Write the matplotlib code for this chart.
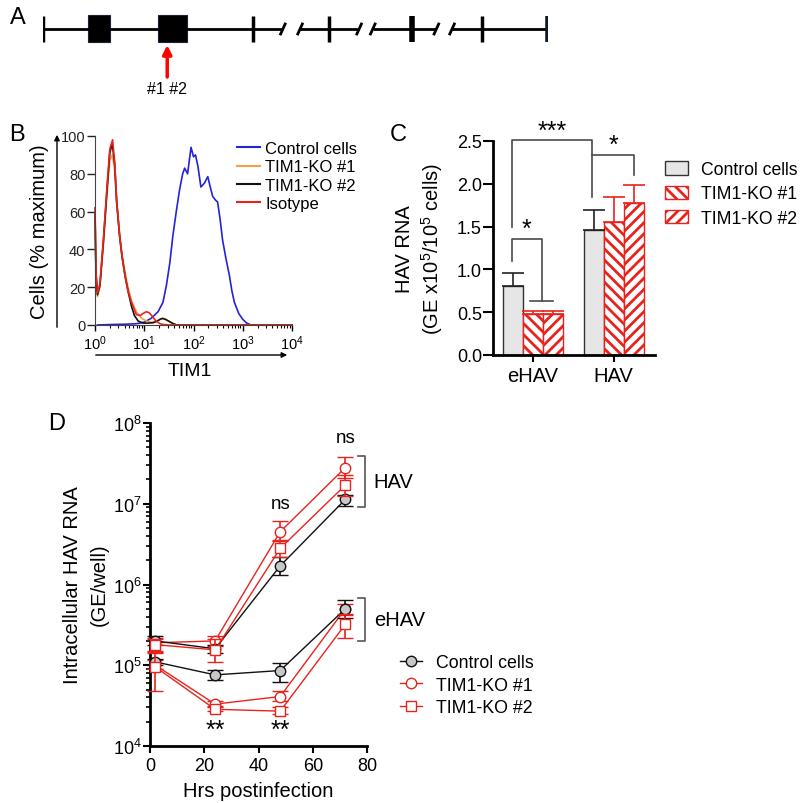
import numpy as np
import matplotlib
matplotlib.use("Agg")
import matplotlib.pyplot as plt
from matplotlib.lines import Line2D
from matplotlib.patches import Rectangle, Patch, FancyArrowPatch
from matplotlib.ticker import LogLocator, NullFormatter

plt.rcParams['font.family'] = ['Liberation Sans', 'DejaVu Sans']
plt.rcParams['mathtext.fontset'] = 'custom'
plt.rcParams['mathtext.rm'] = 'Liberation Sans'
plt.rcParams['mathtext.it'] = 'Liberation Sans:italic'
plt.rcParams['mathtext.bf'] = 'Liberation Sans:bold'
plt.rcParams['hatch.linewidth'] = 2.0

# ---------------- data ----------------
# Panel A: gene schematic (positions in % of drawn gene length)
gene_ticks = [0, 41.6, 56.6, 73.1, 86.9, 100]
exon_starts = [8.9, 22.8]
exon_ends = [13.3, 28.5]
break_left = [47.5, 62.6, 77.9]
break_right = [50.9, 65.3, 81.0]
cut_site = 24.6
guide_label = "#1 #2"

# Panel B: flow cytometry histograms (log10 TIM1 vs % maximum)
blue_log = [0.05, 0.40, 0.60, 0.80, 0.90, 1.00, 1.14, 1.28, 1.38, 1.45, 1.52, 1.58, 1.65, 1.72,
            1.78, 1.82, 1.88, 1.95, 2.00, 2.04, 2.09, 2.15, 2.22, 2.29, 2.34, 2.39, 2.45, 2.49,
            2.54, 2.59, 2.66, 2.73, 2.78, 2.83, 2.92, 3.00, 3.08, 3.17, 4.0]
blue_y = [0, 0.3, 0.4, 0.6, 0.9, 1.5, 3.5, 7, 12, 21, 33, 47, 60, 72, 80, 83, 80, 94, 89, 90,
          84, 73, 75, 78.5, 73, 68, 66, 65, 56, 45, 35, 26, 18, 12, 6, 3, 1, 0, 0]
orange_log = [0.0, 0.02, 0.05, 0.10, 0.17, 0.24, 0.30, 0.35, 0.40, 0.44, 0.50, 0.55, 0.61, 0.67,
              0.74, 0.84, 0.95, 1.05, 1.15, 1.25, 1.32, 1.37, 1.43, 1.50, 1.58, 1.66, 4.0]
orange_y = [58, 25, 15, 20, 42, 68, 87, 90, 82, 65, 48, 37, 28, 20, 13, 7, 3.5, 2, 1.5, 2, 3,
            3.5, 3, 2, 0.8, 0, 0]
black_log = [0.0, 0.02, 0.05, 0.10, 0.17, 0.24, 0.30, 0.35, 0.40, 0.44, 0.50, 0.55, 0.61, 0.67,
             0.74, 0.80, 0.88, 0.98, 1.08, 1.18, 1.26, 1.32, 1.37, 1.43, 1.50, 1.58, 1.66, 4.0]
black_y = [60, 27, 16, 21, 44, 70, 91, 96, 85, 65, 47, 36, 26, 18, 10, 5, 2, 1, 1, 1.2, 2, 3,
           3.5, 3, 2, 0.8, 0, 0]
red_log = [0.0, 0.02, 0.054, 0.10, 0.17, 0.24, 0.30, 0.357, 0.40, 0.44, 0.50, 0.55, 0.61, 0.67,
           0.74, 0.84, 0.92, 0.97, 1.04, 1.10, 1.15, 1.24, 1.32, 1.38, 1.5, 4.0]
red_y = [62, 28, 17, 22, 45, 72, 93, 98, 86, 66, 47, 36, 26, 18, 12, 5.5, 5, 6, 7, 6.5, 5, 2,
         0.7, 0.3, 0, 0]
flow_labels = ["Control cells", "TIM1-KO #1", "TIM1-KO #2", "Isotype"]

# Panel C: bar chart
c_groups = ["eHAV", "HAV"]
c_series = ["Control cells", "TIM1-KO #1", "TIM1-KO #2"]
c_means = {"Control cells": [0.81, 1.465],
           "TIM1-KO #1": [0.48, 1.555],
           "TIM1-KO #2": [0.48, 1.78]}
c_err_top = {"Control cells": [0.96, 1.69],
             "TIM1-KO #1": [0.51, 1.85],
             "TIM1-KO #2": [0.51, 1.99]}

# Panel D: time course
hours = [2, 24, 48, 72]
hav_ctrl = [2.0e5, 1.6e5, 1.7e6, 1.13e7]
hav_ctrl_lo = [1.8e5, 1.4e5, 1.3e6, 9.5e6]
hav_ctrl_hi = [2.3e5, 1.8e5, 2.2e6, 1.3e7]
hav_ko1 = [1.9e5, 2.0e5, 4.5e6, 2.8e7]
hav_ko1_lo = [1.5e5, 1.75e5, 3.5e6, 2.1e7]
hav_ko1_hi = [2.2e5, 2.3e5, 6.1e6, 3.8e7]
hav_ko2 = [1.8e5, 1.55e5, 2.8e6, 1.7e7]
hav_ko2_lo = [1.45e5, 1.1e5, 2.2e6, 1.25e7]
hav_ko2_hi = [2.1e5, 2.1e5, 3.6e6, 2.3e7]
ehav_ctrl = [1.1e5, 7.6e4, 8.6e4, 5.0e5]
ehav_ctrl_lo = [1.0e5, 6.6e4, 6.2e4, 3.8e5]
ehav_ctrl_hi = [1.2e5, 8.7e4, 1.08e5, 6.5e5]
ehav_ko1 = [1.0e5, 3.3e4, 4.1e4, 5.0e5]
ehav_ko1_lo = [9.0e4, 3.0e4, 3.6e4, 4.2e5]
ehav_ko1_hi = [1.15e5, 3.6e4, 4.8e4, 5.8e5]
ehav_ko2 = [9.5e4, 2.85e4, 2.7e4, 3.2e5]
ehav_ko2_lo = [4.8e4, 2.7e4, 2.5e4, 2.2e5]
ehav_ko2_hi = [1.4e5, 3.1e4, 3.0e4, 4.3e5]

# ---------------- figure ----------------
W, H = 800, 804
fig = plt.figure(figsize=(W / 100, H / 100), dpi=100)


def R(x0, y0, x1, y1):
    return [x0 / W, 1 - y1 / H, (x1 - x0) / W, (y1 - y0) / H]


def F(x, y):
    return (x / W, 1 - y / H)


RED = '#e8231e'

# ---------- Panel A ----------
axA = fig.add_axes(R(43, 0, 548, 120))
axA.set_xlim(0, 100)
axA.set_ylim(120, 0)
axA.axis('off')
seg_starts = [0] + break_right
seg_ends = break_left + [100]
for s, e in zip(seg_starts, seg_ends):
    axA.plot([s, e], [30, 30], color='black', lw=2, solid_capstyle='butt')
for b in break_left + break_right:
    axA.plot([b - 0.45, b + 0.45], [35, 25], color='black', lw=2)
for i, t in enumerate(gene_ticks):
    lw = 4 if i in (3, 5) else 2.5
    col = '#101830' if i == 5 else 'black'
    axA.plot([t, t], [17, 43], color=col, lw=lw, solid_capstyle='butt')
for s, e in zip(exon_starts, exon_ends):
    axA.add_patch(Rectangle((s, 16), e - s, 27, facecolor='black', edgecolor='#1a2238', lw=0.8))
axA.annotate('', xy=(cut_site, 46), xytext=(cut_site, 78),
             arrowprops=dict(arrowstyle='-|>', color='red', lw=2.5, mutation_scale=13,
                             shrinkA=0, shrinkB=0))
axA.text(cut_site, 89, guide_label, ha='center', va='center', fontsize=11.5)

# ---------- Panel B ----------
axB = fig.add_axes(R(95, 137, 292, 326))
axB.set_xscale('log')
axB.set_xlim(1, 1e4)
axB.set_ylim(0, 100)
for lg, yy, col in [(blue_log, blue_y, '#2323d8'), (orange_log, orange_y, '#f5a04a'),
                    (black_log, black_y, '#111111'), (red_log, red_y, '#e8231e')]:
    axB.plot(10 ** np.array(lg), yy, color=col, lw=1.2, clip_on=False)
for sp in ['top', 'right']:
    axB.spines[sp].set_visible(False)
axB.spines['left'].set_color('#444444')
axB.spines['bottom'].set_color('#444444')
axB.set_yticks([0, 20, 40, 60, 80, 100])
axB.tick_params(axis='y', length=6, width=1, pad=1, labelsize=10.5, colors='#222222')
axB.xaxis.set_major_locator(LogLocator(base=10, numticks=10))
axB.xaxis.set_minor_locator(LogLocator(base=10, subs=np.arange(2, 10), numticks=10))
axB.xaxis.set_minor_formatter(NullFormatter())
axB.tick_params(axis='x', which='major', length=4, width=1, pad=2, labelsize=10.5)
axB.tick_params(axis='x', which='minor', length=2.5, width=0.8)
legB = [Line2D([], [], color=c, lw=1.5) for c in ['#2323d8', '#f5a04a', '#111111', '#e8231e']]
fig.legend(legB, flow_labels, loc='upper left', bbox_to_anchor=F(237, 142), frameon=False,
           fontsize=12, handlelength=1.4, handletextpad=0.3, labelspacing=0.2,
           borderpad=0, borderaxespad=0)
fig.add_artist(FancyArrowPatch(F(57, 331), F(57, 133), arrowstyle='-|>', mutation_scale=8,
                               lw=1, color='black', transform=fig.transFigure))
fig.add_artist(FancyArrowPatch(F(93, 356), F(290, 356), arrowstyle='-|>', mutation_scale=8,
                               lw=1, color='black', transform=fig.transFigure))
fig.text(*F(40, 232), 'Cells (% maximum)', rotation=90, ha='center', va='center', fontsize=14.5)
fig.text(*F(190, 372), 'TIM1', ha='center', va='center', fontsize=14)

# ---------- Panel C ----------
axC = fig.add_axes(R(493, 142, 655, 356))
axC.set_xlim(-0.49, 1.51)
axC.set_ylim(0, 2.5)
bw = 0.247
xg = np.arange(len(c_groups))
styles = {"Control cells": dict(facecolor='#e6e6e6', edgecolor='#333333', hatch=None),
          "TIM1-KO #1": dict(facecolor='white', edgecolor=RED, hatch='\\\\\\'),
          "TIM1-KO #2": dict(facecolor='white', edgecolor=RED, hatch='///')}
for i, s in enumerate(c_series):
    xs = xg + (i - 1) * bw
    st = styles[s]
    axC.bar(xs, c_means[s], width=bw, facecolor=st['facecolor'], edgecolor=st['edgecolor'],
            hatch=st['hatch'], lw=1.0, zorder=2)
    ecol = '#222222' if i == 0 else RED
    up = np.array(c_err_top[s]) - np.array(c_means[s])
    axC.errorbar(xs, c_means[s], yerr=[np.zeros_like(up), up], fmt='none', ecolor=ecol,
                 elinewidth=1.2, capsize=8, capthick=1.2, zorder=3)
for sp in ['top', 'right']:
    axC.spines[sp].set_visible(False)
axC.spines['left'].set_linewidth(2)
axC.spines['bottom'].set_linewidth(2)
axC.set_yticks([0, 0.5, 1.0, 1.5, 2.0, 2.5])
axC.set_yticklabels(['0.0', '0.5', '1.0', '1.5', '2.0', '2.5'])
axC.set_xticks(xg)
axC.set_xticklabels(c_groups)
axC.tick_params(axis='y', length=7, width=1.5, pad=1, labelsize=13)
axC.tick_params(axis='x', length=5, width=1.5, pad=3, labelsize=14.5)
bc = '#4a4a4a'
axC.plot([-0.25, -0.25, 0.737, 0.737], [1.50, 2.51, 2.51, 1.845], color=bc, lw=1.2, clip_on=False)
axC.plot([0.737, 1.25, 1.25], [2.337, 2.337, 2.10], color=bc, lw=1.2, clip_on=False)
axC.plot([-0.25, -0.25, 0.115, 0.115], [1.097, 1.36, 1.36, 0.63], color=bc, lw=1.2, clip_on=False)
axC.plot([-0.035, 0.25], [0.63, 0.63], color=bc, lw=1.2, clip_on=False)
axC.text(0.243, 2.48, '***', ha='center', va='bottom', fontsize=18)
axC.text(1.0, 2.31, '*', ha='center', va='bottom', fontsize=18)
axC.text(-0.078, 1.33, '*', ha='center', va='bottom', fontsize=18)
legC = [Patch(facecolor=styles[s]['facecolor'], edgecolor=styles[s]['edgecolor'],
              hatch=styles[s]['hatch'], lw=1.0) for s in c_series]
fig.legend(legC, c_series, loc='upper left', bbox_to_anchor=F(665, 162), frameon=False,
           fontsize=12.7, handlelength=1.3, handleheight=0.8, handletextpad=0.75,
           labelspacing=0.42, borderpad=0, borderaxespad=0)
fig.text(*F(405, 249), 'HAV RNA', rotation=90, ha='center', va='center', fontsize=14.5)
fig.text(*F(432, 249), '(GE x10$^{5}$/10$^{5}$ cells)', rotation=90, ha='center', va='center',
         fontsize=14.5)

# ---------- Panel D ----------
axD = fig.add_axes(R(150, 424, 367, 747))
axD.set_yscale('log')
axD.set_xlim(0, 80)
axD.set_ylim(1e4, 1e8)


def series(vals, lo, hi, color, marker, mfc, z):
    v = np.array(vals)
    yerr = [v - np.array(lo), np.array(hi) - v]
    axD.errorbar(hours, v, yerr=yerr, color=color, ecolor=color, lw=1.0, elinewidth=1.2,
                 capsize=5.5, capthick=1.2, marker=marker, ms=7.5 if marker == 'o' else 7,
                 mfc=mfc, mec=color, mew=1.0, zorder=z, clip_on=False)


series(hav_ko1, hav_ko1_lo, hav_ko1_hi, RED, 'o', 'white', 3)
series(ehav_ko1, ehav_ko1_lo, ehav_ko1_hi, RED, 'o', 'white', 3)
series(hav_ctrl, hav_ctrl_lo, hav_ctrl_hi, '#111111', 'o', '#c8c8c8', 4)
series(ehav_ctrl, ehav_ctrl_lo, ehav_ctrl_hi, '#111111', 'o', '#c8c8c8', 4)
series(hav_ko2, hav_ko2_lo, hav_ko2_hi, RED, 's', 'white', 5)
series(ehav_ko2, ehav_ko2_lo, ehav_ko2_hi, RED, 's', 'white', 5)
for sp in ['top', 'right']:
    axD.spines[sp].set_visible(False)
axD.spines['left'].set_linewidth(2)
axD.spines['bottom'].set_linewidth(2)
axD.set_xticks([0, 20, 40, 60, 80])
axD.yaxis.set_major_locator(LogLocator(base=10, numticks=10))
axD.yaxis.set_minor_locator(LogLocator(base=10, subs=np.arange(2, 10), numticks=10))
axD.yaxis.set_minor_formatter(NullFormatter())
axD.tick_params(axis='y', which='major', length=5, width=1.5, pad=1, labelsize=13)
axD.tick_params(axis='y', which='minor', length=3, width=1.2)
axD.tick_params(axis='x', length=5, width=1.5, pad=3, labelsize=13)
axD.text(48, 7.8e6, 'ns', ha='center', va='bottom', fontsize=13.5)
axD.text(72, 5.2e7, 'ns', ha='center', va='bottom', fontsize=13.5)
axD.text(24, 1.12e4, '**', ha='center', va='bottom', fontsize=18)
axD.text(48, 1.12e4, '**', ha='center', va='bottom', fontsize=18)
gc = '#555555'
axD.plot([76.8, 79.3, 79.3, 76.8], [3.9e7, 3.9e7, 9.1e6, 9.1e6], color=gc, lw=1.2, clip_on=False)
axD.plot([76.8, 79.3, 79.3, 76.8], [6.8e5, 6.8e5, 2.0e5, 2.0e5], color=gc, lw=1.2, clip_on=False)
axD.text(82.5, 1.9e7, 'HAV', ha='left', va='center', fontsize=14.5)
axD.text(82.5, 3.7e5, 'eHAV', ha='left', va='center', fontsize=14.5)
legD = [Line2D([], [], color='#111111', lw=1, marker='o', ms=7.5, mfc='#c8c8c8', mec='#111111'),
        Line2D([], [], color=RED, lw=1, marker='o', ms=7.5, mfc='white', mec=RED),
        Line2D([], [], color=RED, lw=1, marker='s', ms=7, mfc='white', mec=RED)]
fig.legend(legD, c_series, loc='upper left', bbox_to_anchor=F(400, 655), frameon=False,
           fontsize=12.8, handlelength=1.25, handletextpad=0.75, labelspacing=0.32,
           borderpad=0, borderaxespad=0)
fig.text(*F(73, 585), 'Intracellular HAV RNA', rotation=90, ha='center', va='center',
         fontsize=14.5)
fig.text(*F(99, 585), '(GE/well)', rotation=90, ha='center', va='center', fontsize=14.5)
fig.text(*F(258, 792), 'Hrs postinfection', ha='center', va='center', fontsize=14.5)

# panel letters
for lab, (x, y) in zip('ABCD', [(18, 18), (17, 135), (398, 135), (57, 424)]):
    fig.text(*F(x, y), lab, ha='center', va='center', fontsize=17)

fig.savefig('out.png', dpi=100)
